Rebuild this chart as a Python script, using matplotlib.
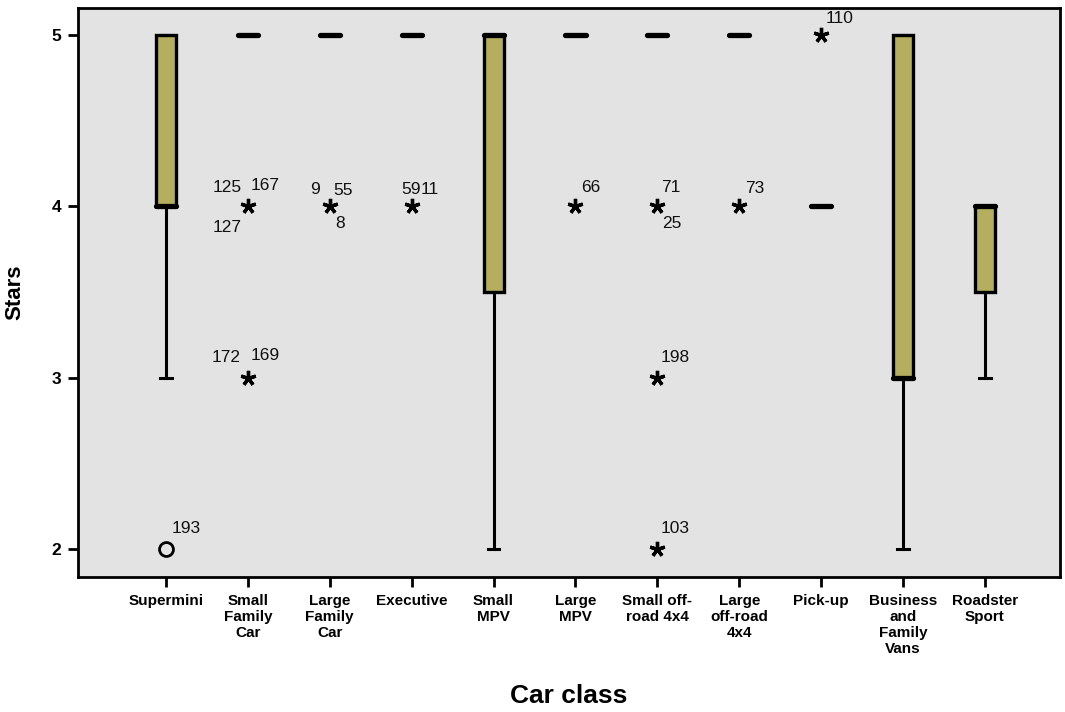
import matplotlib
matplotlib.use("Agg")
import matplotlib.pyplot as plt

# Box summaries per car class (SPSS style boxplot of star ratings)
classes = ["Supermini", "Small\nFamily\nCar", "Large\nFamily\nCar", "Executive",
           "Small\nMPV", "Large\nMPV", "Small off-\nroad 4x4", "Large\noff-road\n4x4",
           "Pick-up", "Business\nand\nFamily\nVans", "Roadster\nSport"]
q1 = [4, 5, 5, 5, 3.5, 5, 5, 5, 4, 3, 3.5]
med = [4, 5, 5, 5, 5, 5, 5, 5, 4, 3, 4]
q3 = [5, 5, 5, 5, 5, 5, 5, 5, 4, 5, 4]
whis_lo = [3, 5, 5, 5, 2, 5, 5, 5, 4, 2, 3]
whis_hi = [5, 5, 5, 5, 5, 5, 5, 5, 4, 5, 4]

# Outliers: (class index, value, kind) ; 'o' = mild, '*' = extreme
out_idx = [0, 1, 1, 2, 3, 5, 6, 6, 6, 7, 8]
out_val = [2, 4, 3, 4, 4, 4, 4, 3, 2, 4, 5]
out_kind = ["o", "*", "*", "*", "*", "*", "*", "*", "*", "*", "*"]

# Case labels attached to outliers: (class index, value, text)
lab_idx = [0, 1, 1, 1, 1, 1, 2, 2, 2, 3, 3, 5, 6, 6, 6, 6, 7, 8]
lab_val = [2, 4, 4, 4, 3, 3, 4, 4, 4, 4, 4, 4, 4, 4, 3, 2, 4, 5]
lab_txt = ["193", "125", "167", "127", "172", "169", "9", "55", "8", "59", "11",
           "66", "71", "25", "198", "103", "73", "110"]
# label placement (pixel offsets from marker, horizontal alignment)
lab_dx = [6, -6, 3, -6, -7, 3, -10, 4, 5, 9, 9, 6, 4, 5, 3, 3, 6, 4]
lab_dy = [21, 19, 21, -21, 20, 22, 17, 16, -17, 17, 17, 19, 19, -17, 20, 21, 18, 17]
lab_ha = ["left", "right", "left", "right", "right", "left", "right", "left", "left",
          "right", "left", "left", "left", "left", "left", "left", "left", "left"]

BG = "#e3e3e3"
BOX = "#b5ae5f"

fig = plt.figure(figsize=(10.65, 7.12), dpi=100)
ax = fig.add_axes([78 / 1065, 1 - 577 / 712, (1060 - 78) / 1065, (577 - 8) / 712])
ax.set_facecolor(BG)

stats = []
for i in range(len(classes)):
    stats.append({"q1": q1[i], "med": med[i], "q3": q3[i],
                  "whislo": whis_lo[i], "whishi": whis_hi[i], "fliers": []})

ax.bxp(stats, positions=range(len(classes)), widths=0.245, capwidths=0.14,
       showfliers=False, patch_artist=True,
       boxprops=dict(facecolor=BOX, edgecolor="black", linewidth=2.4),
       medianprops=dict(color="black", linewidth=3.8, solid_capstyle="round"),
       whiskerprops=dict(color="black", linewidth=2.2),
       capprops=dict(color="black", linewidth=2.2))

for i, v, k in zip(out_idx, out_val, out_kind):
    if k == "o":
        ax.plot(i, v, marker="o", ms=10, mfc="none", mec="black", mew=2, zorder=5)
    else:
        ax.plot(i, v, marker=(5, 2, 0), ms=11, color="black", mew=2.4, zorder=5)

for i, v, t, dx, dy, ha in zip(lab_idx, lab_val, lab_txt, lab_dx, lab_dy, lab_ha):
    ax.annotate(t, (i, v), xytext=(dx, dy), textcoords="offset pixels",
                ha=ha, va="center", fontsize=12.5, family="Liberation Sans",
                color="#111111")

ax.set_xlim(-1.074, 10.916)
ax.set_ylim(1.837, 5.158)
ax.set_xticks(range(len(classes)))
ax.set_xticklabels(classes, fontsize=11, fontweight="bold", family="Liberation Sans",
                   linespacing=1.2)
ax.set_yticks([2, 3, 4, 5])
ax.set_yticklabels(["2", "3", "4", "5"], fontsize=12.5, fontweight="bold",
                   family="Liberation Sans")
ax.tick_params(axis="both", direction="out", length=7, width=2, color="black", pad=5)
for s in ax.spines.values():
    s.set_linewidth(2)
    s.set_color("black")

ax.set_xlabel("Car class", fontsize=19, fontweight="bold", family="Liberation Sans")
ax.xaxis.set_label_coords(0.5, -0.188)
ax.set_ylabel("Stars", fontsize=16, fontweight="bold", family="Liberation Sans")
ax.yaxis.set_label_coords(-0.054, 0.5)

fig.savefig("out.png", dpi=100)
